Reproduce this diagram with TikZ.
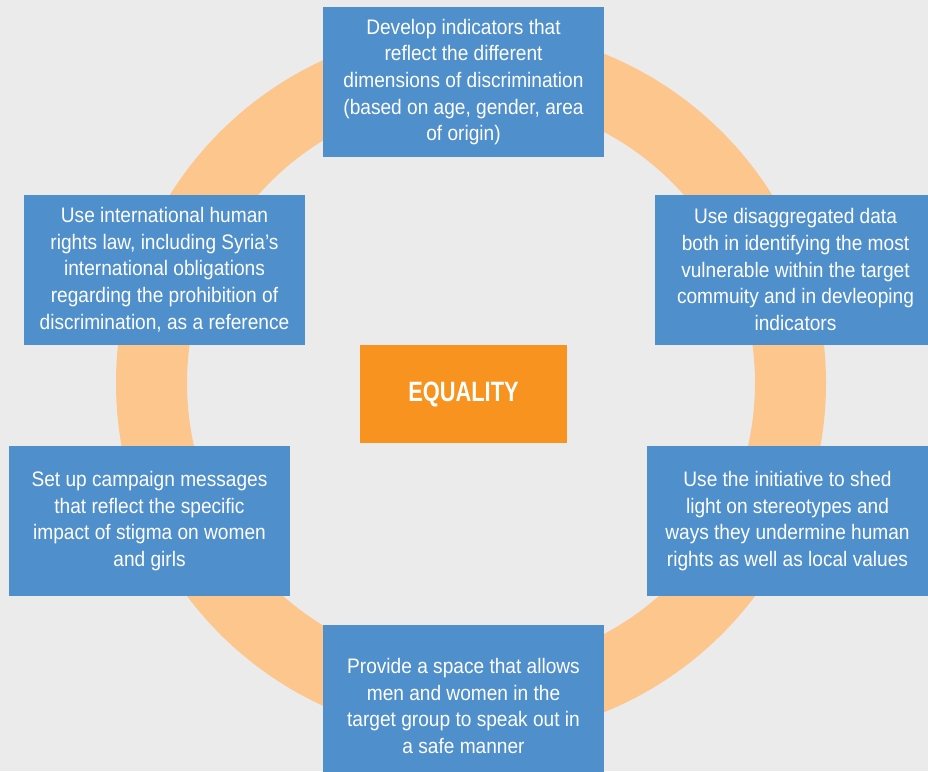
\documentclass[tikz,border=0pt]{standalone}
\usepackage{fontspec}
\setmainfont{Liberation Sans}[FakeStretch=0.91]
\newfontfamily\titlefont{Liberation Sans}[FakeStretch=0.78]
\definecolor{pagebg}{RGB}{235,235,235}
\definecolor{ringorange}{RGB}{253,198,140}
\definecolor{cardblue}{RGB}{79,143,203}
\definecolor{coreorange}{RGB}{247,147,30}
\tikzset{
  card/.style={fill=cardblue, inner sep=0pt, minimum width=281pt, minimum height=150pt,
    text=white, align=center, font=\fontsize{21}{26.7}\selectfont},
  core/.style={fill=coreorange, inner sep=0pt, minimum width=207pt, minimum height=98pt,
    text=white, font=\titlefont\bfseries\fontsize{28}{30}\selectfont}
}
\begin{document}
\begin{tikzpicture}[x=1pt,y=-1pt]
  \useasboundingbox (0,0) rectangle (928,771);
  \clip (0,0) rectangle (928,771);
  \fill[pagebg] (0,0) rectangle (928,771);
  % the ring behind the cards
  \draw[ringorange, line width=71pt] (471,383) circle (319.5);
  % centre
  \node[core] (equality) at (463.5,394) {EQUALITY};
  % cards around the ring
  \node[card] (top) at (463.5,82) {Develop indicators that\\reflect the different\\dimensions of discrimination\\(based on age, gender, area\\of origin)};
  \node[card] (rightup) at (795.5,269.5) {Use disaggregated data\\both in identifying the most\\vulnerable within the target\\commuity and in devleoping\\indicators};
  \node[card] (leftup) at (164.5,269.5) {Use international human\\rights law, including Syria’s\\international obligations\\regarding the prohibition of\\discrimination, as a reference};
  \node[card] (leftdown) at (149.5,521) {Set up campaign messages\\that reflect the specific\\impact of stigma on women\\and girls};
  \node[card] (rightdown) at (787.5,521) {Use the initiative to shed\\light on stereotypes and\\ways they undermine human\\rights as well as local values};
  \node[card, minimum height=162pt] (bottom) at (463.5,706) {Provide a space that allows\\men and women in the\\target group to speak out in\\a safe manner};
\end{tikzpicture}
\end{document}
